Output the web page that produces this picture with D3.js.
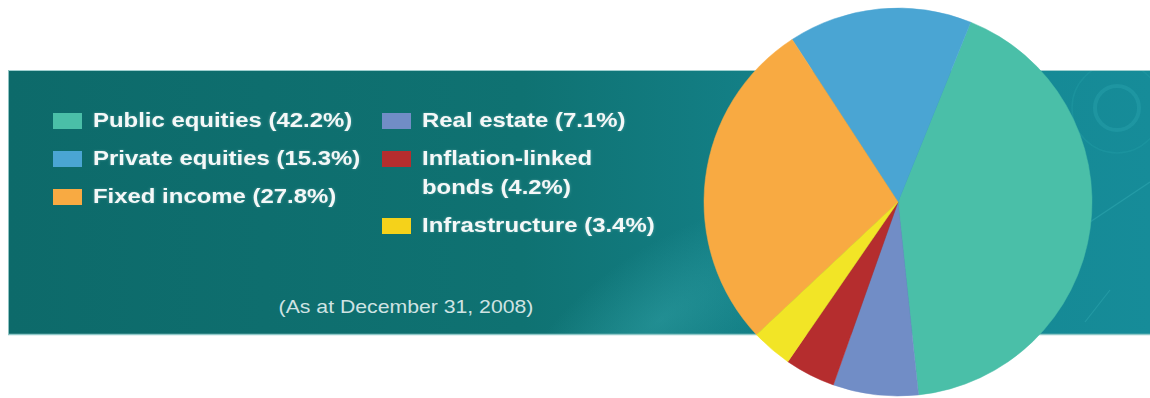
<!DOCTYPE html>
<html>
<head>
<meta charset="utf-8">
<script src="https://cdn.jsdelivr.net/npm/d3@7"></script>
<style>
  body { margin: 0; background: #fff; }
  svg { display: block; }
  text { font-family: "Liberation Sans", Arial, sans-serif; }
</style>
</head>
<body>
<div id="chart"></div>
<script>
// asset mix, legend order
const categories = ["Public equities", "Private equities", "Fixed income", "Real estate", "Inflation-linked bonds", "Infrastructure"]
const values = [42.2, 15.3, 27.8, 7.1, 4.2, 3.4]
const colors = ["#4abfa8", "#4aa5d3", "#f8aa42", "#718dc6", "#b52d2e", "#f2e526"]
// legend column for each category
const legendColumn = [0, 0, 0, 1, 1, 1]
// order the slices run clockwise in the pie
const pieOrder = ["Public equities", "Real estate", "Inflation-linked bonds", "Infrastructure", "Fixed income", "Private equities"]
const footnote = "(As at December 31, 2008)"

let width = 1150,
  height = 398

let data = categories.map(function (c, i) { return { name: c, value: values[i], color: colors[i], col: legendColumn[i] } })

let svg = d3.select("#chart").append("svg")
  .attr("width", width)
  .attr("height", height)

let defs = svg.append("defs")

let bandGrad = defs.append("linearGradient").attr("id", "band")
  .attr("x1", "0%").attr("x2", "100%").attr("y1", "0%").attr("y2", "0%")
bandGrad.append("stop").attr("offset", "0%").attr("stop-color", "#0d6a6a")
bandGrad.append("stop").attr("offset", "45%").attr("stop-color", "#0f7272")
bandGrad.append("stop").attr("offset", "75%").attr("stop-color", "#158690")
bandGrad.append("stop").attr("offset", "100%").attr("stop-color", "#168c99")

let glow = defs.append("radialGradient").attr("id", "glow")
glow.append("stop").attr("offset", "0%").attr("stop-color", "#3fb3b8").attr("stop-opacity", 0.35)
glow.append("stop").attr("offset", "100%").attr("stop-color", "#3fb3b8").attr("stop-opacity", 0)

let shadow = defs.append("filter").attr("id", "soft").attr("x", "-5%").attr("y", "-20%").attr("width", "110%").attr("height", "140%")
shadow.append("feGaussianBlur").attr("in", "SourceAlpha").attr("stdDeviation", 1.2).attr("result", "b")
shadow.append("feFlood").attr("flood-color", "#bfe6e6").attr("flood-opacity", 0.35)
shadow.append("feComposite").attr("in2", "b").attr("operator", "in").attr("result", "g")
let merge = shadow.append("feMerge")
merge.append("feMergeNode").attr("in", "g")
merge.append("feMergeNode").attr("in", "SourceGraphic")

// teal band
let band = { x: 8, y: 70, w: width - 8, h: 265 }
svg.append("rect")
  .attr("x", band.x).attr("y", band.y)
  .attr("width", band.w).attr("height", band.h)
  .attr("fill", "url(#band)")
svg.append("clipPath").attr("id", "bandClip").append("rect")
  .attr("x", band.x).attr("y", band.y).attr("width", band.w).attr("height", band.h)

let deco = svg.append("g").attr("clip-path", "url(#bandClip)")
deco.append("ellipse")
  .attr("transform", "translate(660,320) rotate(-35)")
  .attr("rx", 170).attr("ry", 70)
  .attr("fill", "url(#glow)")
deco.append("circle").attr("cx", 1117).attr("cy", 108).attr("r", 22)
  .attr("fill", "none").attr("stroke", "#2aa6b0").attr("stroke-width", 4).attr("opacity", 0.4)
deco.append("circle").attr("cx", 1117).attr("cy", 108).attr("r", 45)
  .attr("fill", "none").attr("stroke", "#26a0aa").attr("stroke-width", 1.5).attr("opacity", 0.35)
deco.append("line").attr("x1", 1090).attr("y1", 222).attr("x2", 1150).attr("y2", 182)
  .attr("stroke", "#36aeb6").attr("stroke-width", 1.2).attr("opacity", 0.45)
deco.append("line").attr("x1", 1085).attr("y1", 322).attr("x2", 1110).attr("y2", 290)
  .attr("stroke", "#36aeb6").attr("stroke-width", 1.2).attr("opacity", 0.4)

// light edges of the band
svg.append("line").attr("x1", band.x).attr("x2", width).attr("y1", band.y + 0.5).attr("y2", band.y + 0.5)
  .attr("stroke", "#9fcfcf").attr("stroke-width", 1)
svg.append("line").attr("x1", band.x).attr("x2", width).attr("y1", band.y + band.h - 0.5).attr("y2", band.y + band.h - 0.5)
  .attr("stroke", "#8fc8c8").attr("stroke-width", 1.5)
svg.append("line").attr("x1", band.x + 0.5).attr("x2", band.x + 0.5).attr("y1", band.y).attr("y2", band.y + band.h)
  .attr("stroke", "#8fc3c3").attr("stroke-width", 1)

// pie
let radius = 194
let pie = d3.pie()
  .value(function (d) { return d.value })
  .sort(function (a, b) { return pieOrder.indexOf(a.name) - pieOrder.indexOf(b.name) })
  .startAngle(22 * Math.PI / 180)
  .endAngle(22 * Math.PI / 180 + 2 * Math.PI)

let arc = d3.arc().innerRadius(0).outerRadius(radius)

svg.append("g")
  .attr("transform", "translate(898,202)")
  .selectAll("path")
  .data(pie(data))
  .enter().append("path")
  .attr("d", arc)
  .attr("fill", function (d) { return d.data.color })
  .attr("stroke", function (d) { return d.data.color })
  .attr("stroke-width", 0.5)

// legend
let colX = [53, 382],
  textGap = 40,
  rowStep = 38,
  lineStep = 29,
  cursor = [127, 127]

let legend = svg.append("g")
data.forEach(function (d) {
  let label = d.name + " (" + d.value + "%)"
  let lines = d.name === "Inflation-linked bonds" ? ["Inflation-linked", "bonds (" + d.value + "%)"] : [label]
  let y = cursor[d.col]
  legend.append("rect")
    .attr("x", colX[d.col]).attr("y", y - 14)
    .attr("width", 29).attr("height", 16)
    .attr("fill", d.name === "Infrastructure" ? "#f5d21a" : d.color)
  lines.forEach(function (t, j) {
    legend.append("text")
      .attr("transform", "translate(" + (colX[d.col] + textGap) + "," + (y + j * lineStep) + ") scale(1.14,1)")
      .attr("fill", "#f4f8f8")
      .attr("font-weight", "bold")
      .attr("font-size", 21)
      .attr("filter", "url(#soft)")
      .text(t)
  })
  cursor[d.col] += rowStep + (lines.length - 1) * lineStep
})

svg.append("text")
  .attr("transform", "translate(406,313) scale(1.18,1)")
  .attr("text-anchor", "middle")
  .attr("fill", "#cfe3e3")
  .attr("font-size", 18)
  .text(footnote)
</script>
</body>
</html>
